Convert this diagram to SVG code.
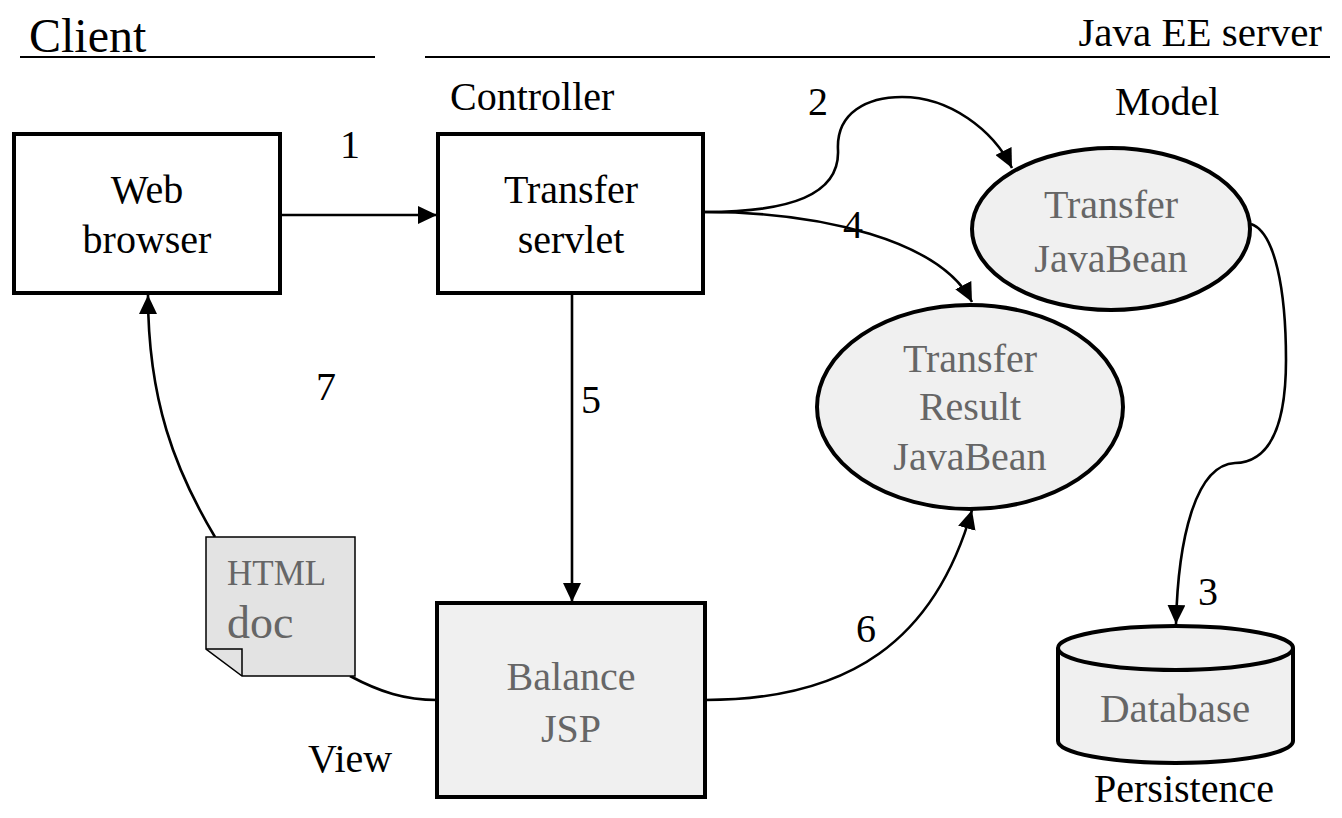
<svg xmlns="http://www.w3.org/2000/svg" width="1342" height="818" viewBox="0 0 1342 818">
<defs>
<style>
text{font-family:"Liberation Serif","Times New Roman",serif;font-size:40px;fill:#000}
.c{text-anchor:middle}
.g{fill:#666}
.box{fill:#fff;stroke:#000;stroke-width:4}
.shade{fill:#f0f0f0;stroke:#000;stroke-width:4}
.conn{fill:none;stroke:#000;stroke-width:2.6}
.rule{stroke:#000;stroke-width:1.8}
</style>
<marker id="ah" markerUnits="userSpaceOnUse" markerWidth="19" markerHeight="18" refX="19" refY="9" orient="auto">
<path d="M0,0 L19,9 L0,18 z" fill="#000"/>
</marker>
</defs>
<rect width="1342" height="818" fill="#fff"/>

<g id="headers">
<text x="29" y="52" style="font-size:48px">Client</text>
<line class="rule" x1="20" y1="57" x2="375" y2="57"/>
<text x="1322" y="46" style="font-size:41px;text-anchor:end">Java EE server</text>
<line class="rule" x1="425" y1="57" x2="1330" y2="57"/>
<text x="450" y="110">Controller</text>
<text x="1115" y="115">Model</text>
<text x="308" y="772">View</text>
<text x="1184" y="802" class="c">Persistence</text>
</g>

<g id="connectors">
<line class="conn" x1="280" y1="215" x2="437" y2="215" marker-end="url(#ah)"/>
<path class="conn" d="M705,212 C790,212 840,195 838,150 C836,112 868,97 902,97 C950,97 993,130 1012,168" marker-end="url(#ah)"/>
<path class="conn" d="M1251,224 C1275,232 1286,290 1286,360 C1286,420 1272,462 1235,463 C1195,465 1178,540 1176,624" marker-end="url(#ah)"/>
<path class="conn" d="M705,212 C820,212 940,240 972,302" marker-end="url(#ah)"/>
<line class="conn" x1="572" y1="293" x2="572" y2="602" marker-end="url(#ah)"/>
<path class="conn" d="M705,700 C850,700 935,640 972,510" marker-end="url(#ah)"/>
<path class="conn" d="M215,537 C175,470 148,400 148,295" marker-end="url(#ah)"/>
<path class="conn" d="M350,676 C380,692 405,700 437,700"/>
<text x="350" y="158" class="c">1</text>
<text x="818" y="115" class="c">2</text>
<text x="1208" y="605" class="c">3</text>
<text x="853" y="238" class="c">4</text>
<text x="591" y="413" class="c">5</text>
<text x="866" y="642" class="c">6</text>
<text x="326" y="400" class="c">7</text>
</g>

<g id="web-browser">
<rect class="box" x="14" y="134" width="266" height="159"/>
<text x="147" y="203" class="c">Web</text>
<text x="147" y="253" class="c">browser</text>
</g>

<g id="transfer-servlet">
<rect class="box" x="438" y="134" width="265" height="159"/>
<text x="571" y="203" class="c">Transfer</text>
<text x="571" y="253" class="c">servlet</text>
</g>

<g id="transfer-javabean">
<ellipse class="shade" cx="1111" cy="229" rx="139" ry="81"/>
<text x="1111" y="218" class="c g">Transfer</text>
<text x="1111" y="272" class="c g">JavaBean</text>
</g>

<g id="transfer-result-javabean">
<ellipse class="shade" cx="970" cy="407" rx="153" ry="102"/>
<text x="970" y="372" class="c g">Transfer</text>
<text x="970" y="420" class="c g">Result</text>
<text x="970" y="470" class="c g">JavaBean</text>
</g>

<g id="balance-jsp">
<rect class="shade" x="437" y="603" width="268" height="194"/>
<text x="571" y="690" class="c g">Balance</text>
<text x="571" y="742" class="c g">JSP</text>
</g>

<g id="html-doc">
<path d="M206,537 L355,537 L355,676 L242,676 L206,649 Z" fill="#e3e3e3" stroke="#000" stroke-width="1.5"/>
<path d="M206,649 L242,649 L242,676" fill="none" stroke="#000" stroke-width="1.5"/>
<text x="227" y="585" class="g" style="font-size:35px">HTML</text>
<text x="227" y="638" class="g" style="font-size:46px">doc</text>
</g>

<g id="database">
<path class="shade" d="M1058,648 L1058,741 A117.5,22 0 0 0 1293,741 L1293,648"/>
<ellipse class="shade" cx="1175.5" cy="648" rx="117.5" ry="22"/>
<text x="1175" y="722" class="c g" style="font-size:41px">Database</text>
</g>
</svg>
